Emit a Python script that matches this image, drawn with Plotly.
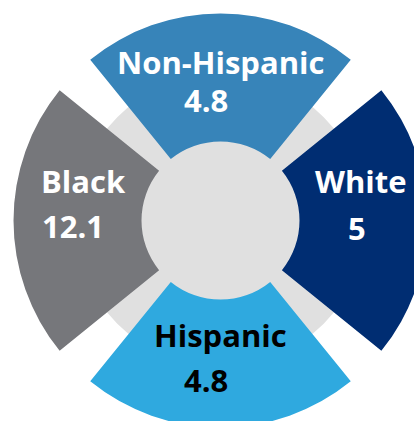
import plotly.graph_objects as go

# ---- data ----
groups = ["Non-Hispanic", "White", "Hispanic", "Black"]
values = [4.8, 5, 4.8, 12.1]
angles = [90, 0, 270, 180]          # wedge centre directions (deg)
colors = ["#3784b9", "#002d72", "#2fa9df", "#76777b"]
text_colors = ["white", "white", "black", "white"]

# geometry (radial units == pixels)
R_AXIS = 220.5
R_OUT = 207
R_IN = 79
R_RING = 146
WEDGE = 78

W = H = 441
fig = go.Figure()

# light-grey background disc
fig.add_trace(go.Barpolar(
    r=[R_RING], theta=[0], width=[360], base=[0],
    marker=dict(color="#e0e0e0", line=dict(width=0)),
    hoverinfo="skip", showlegend=False))

# the four wedges
fig.add_trace(go.Barpolar(
    r=[R_OUT - R_IN] * len(groups), theta=angles, width=[WEDGE] * len(groups),
    base=[R_IN] * len(groups),
    marker=dict(color=colors, line=dict(width=0)),
    text=groups, hoverinfo="text", showlegend=False))

fig.update_layout(
    width=W, height=H,
    margin=dict(l=0, r=0, t=0, b=0),
    paper_bgcolor="white",
    showlegend=False,
    polar=dict(
        domain=dict(x=[0, 1], y=[0, 1]),
        bgcolor="rgba(0,0,0,0)",
        radialaxis=dict(range=[0, R_AXIS], visible=False, showgrid=False),
        angularaxis=dict(visible=False, showgrid=False),
    ),
)

# labels: (name line centre px, value line centre px, xanchor)
label_pos = {
    "Non-Hispanic": ((220, 62), (206, 100), "center"),
    "White": ((361, 181), (357, 228), "center"),
    "Hispanic": ((220, 335), (206, 380), "center"),
    "Black": ((39, 181), (40, 226), "left"),
}
font_size = 31
for g, v, tc in zip(groups, values, text_colors):
    (nx, ny), (vx, vy), anc = label_pos[g]
    for txt, px, py in ((g, nx, ny), (f"{v:g}", vx, vy)):
        fig.add_annotation(
            x=px / W, y=1 - py / H, xref="paper", yref="paper",
            text=f"<b>{txt}</b>", showarrow=False,
            xanchor=anc, yanchor="middle",
            font=dict(family="Open Sans", size=font_size, color=tc))

fig.write_html(
    "out.html",
    config={"displayModeBar": False},
    post_script="document.body.style.margin='0';"
                "document.body.style.overflow='hidden';"
                "document.documentElement.style.overflow='hidden';")
